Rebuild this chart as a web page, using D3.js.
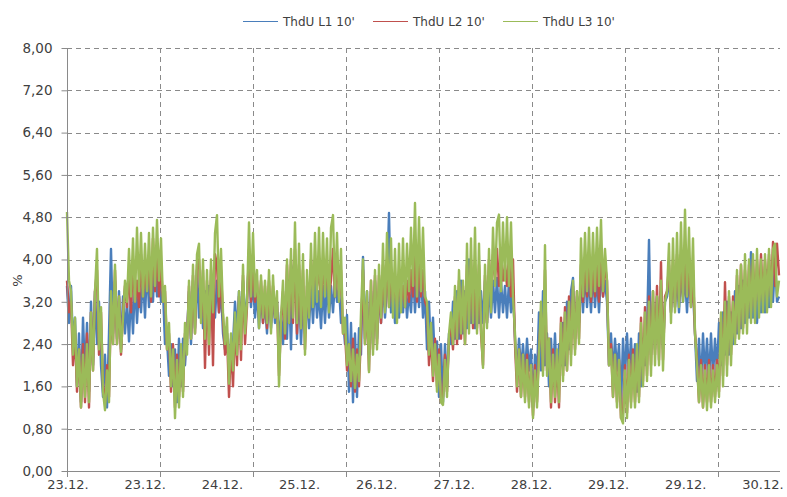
<!DOCTYPE html>
<html><head><meta charset="utf-8">
<script src="https://cdn.jsdelivr.net/npm/d3@7"></script>
<style>body{margin:0;background:#fff}svg{display:block}</style>
</head><body><svg id="c" width="787" height="497"></svg>
<script>
// Series names & colours
const seriesNames = ["ThdU L1 10'", "ThdU L2 10'", "ThdU L3 10'"];
const seriesColors = ["#4A7EBB", "#C0504D", "#9BBB59"];
// Y tick values
const yTicks = [0, 0.8, 1.6, 2.4, 3.2, 4.0, 4.8, 5.6, 6.4, 7.2, 8.0];
// X category labels and the sample index where each appears
const xLabels = ["23.12.", "23.12.", "24.12.", "25.12.", "26.12.", "27.12.", "28.12.", "29.12.", "29.12.", "30.12."];
const xLabelIndex = [0.5, 39.1, 77.7, 116.3, 154.9, 193.6, 232.2, 270.8, 309.4, 348];
const xGridIndex = [0, 46.5, 93, 139.5, 186, 232.5, 279, 325.5];

// L1 (blue)
const L1 = [
3.5,2.8,3.5,2.4,2.9,1.6,2.6,1.3,2.9,1.8,2.8,1.5,3.2,2.0,3.4,2.4,3.2,2.0,1.4,2.2,
1.2,2.6,4.2,2.6,3.6,2.5,3.4,2.3,3.3,2.6,3.2,2.45,3.4,2.6,3.6,2.8,3.5,3.0,3.7,2.9,
3.9,3.1,3.8,3.2,4.2,3.3,3.9,3.2,3.4,2.4,2.5,1.8,2.4,1.6,2.3,1.3,2.5,1.6,2.5,2.0,
2.6,3.4,2.4,3.6,2.7,3.8,2.9,3.5,2.7,3.4,2.8,3.5,3.0,3.6,2.9,3.6,3.0,3.4,2.6,2.3,
2.6,1.9,2.5,2.4,3.2,2.6,3.4,2.7,3.6,2.8,3.3,4.0,3.1,3.6,2.9,3.4,2.7,3.3,2.8,3.2,
2.6,3.4,2.7,3.3,2.8,3.2,2.4,3.0,2.4,3.2,2.5,3.6,2.3,3.8,4.0,2.5,3.5,2.4,3.3,2.6,
3.3,2.7,3.5,2.8,3.6,2.9,3.4,2.7,3.5,2.8,3.6,2.9,3.5,3.0,3.6,3.2,3.5,2.8,2.9,2.4,
2.95,1.5,2.8,1.3,2.6,1.4,2.7,2.2,4.05,2.5,3.4,2.2,3.4,2.4,3.6,2.5,3.4,2.8,3.6,2.9,
3.5,4.88,3.0,3.5,2.8,3.6,2.9,3.5,3.0,3.6,2.9,3.4,3.0,3.8,3.0,3.7,3.1,3.8,2.9,3.4,
2.3,3.2,2.2,2.9,2.0,2.45,1.4,2.4,1.3,2.4,1.6,2.6,2.4,3.2,2.5,3.4,2.5,3.6,2.6,3.4,
2.7,4.0,2.8,3.7,2.7,3.5,2.8,3.4,2.8,3.6,2.8,3.5,2.9,3.6,3.0,3.65,2.9,3.6,3.0,3.5,
2.9,3.6,3.0,3.4,2.5,1.8,2.5,1.9,2.4,1.8,2.5,1.9,2.3,1.2,2.2,1.8,3.0,1.9,3.4,2.0,
2.6,1.6,2.5,1.7,2.6,1.6,2.4,2.0,2.8,2.0,3.2,2.3,3.4,3.65,2.5,3.3,2.8,3.7,3.0,3.8,
3.1,3.7,3.0,3.8,3.1,3.7,3.0,3.8,3.3,3.6,3.2,2.0,2.6,1.8,2.5,1.9,2.4,1.2,2.5,1.8,
2.6,1.8,2.5,1.7,2.4,1.5,2.6,1.6,2.5,2.0,2.6,4.37,2.2,3.2,2.3,3.3,2.4,3.4,2.3,3.2,
3.3,3.7,3.0,3.8,3.1,3.7,3.0,3.8,3.2,3.7,3.0,3.8,3.2,3.4,2.6,1.7,2.5,1.6,2.6,1.8,
2.5,1.7,2.6,1.8,2.5,1.9,2.8,2.0,3.0,2.2,3.2,2.2,3.0,2.4,3.4,2.6,3.5,2.7,3.6,2.8,
3.4,2.9,4.14,2.9,3.4,2.8,3.6,3.0,3.5,3.0,3.8,3.1,3.7,3.2,4.0,3.2,3.3];

// L2 (red)
const L2 = [
3.6,3.0,3.2,2.0,2.6,1.5,2.3,1.2,2.4,1.3,2.6,1.2,3.0,1.9,3.4,3.8,2.2,3.0,1.6,1.3,
2.0,1.4,3.2,2.4,3.8,2.4,3.3,2.2,3.0,3.5,3.1,3.8,3.0,4.0,3.2,3.6,3.1,4.1,3.3,3.8,
3.4,4.0,3.2,4.4,3.4,4.2,3.3,3.9,3.2,3.4,2.3,2.6,1.5,2.4,1.2,2.2,1.4,2.3,1.5,2.6,
2.4,3.5,2.5,3.7,2.6,3.9,4.0,2.9,3.8,1.95,3.6,2.2,3.8,2.0,4.1,3.9,3.0,3.8,2.9,2.2,
2.6,1.4,2.4,1.6,2.8,2.0,3.3,2.1,3.7,2.4,3.1,4.2,3.2,3.9,3.2,3.6,2.9,3.6,2.8,3.5,
2.7,3.6,2.8,3.5,2.9,3.2,1.8,2.8,3.4,2.5,3.9,2.8,4.0,2.8,4.2,2.6,3.9,2.7,3.8,2.3,
3.5,3.0,4.0,3.4,3.9,3.5,3.8,3.2,3.9,3.4,3.8,3.3,3.6,4.2,3.3,4.0,3.3,3.8,2.6,2.6,
1.9,2.4,1.6,2.5,1.5,2.3,1.6,2.6,3.8,2.4,3.2,1.9,3.6,2.3,3.7,2.4,3.7,2.8,3.9,3.1,
4.0,3.1,3.8,3.2,3.6,3.1,3.7,3.2,3.5,3.1,3.6,3.2,3.8,3.3,4.2,3.2,4.0,3.3,3.8,3.2,
3.1,2.0,2.6,1.7,2.5,1.6,2.3,1.3,1.4,2.2,1.5,2.5,2.8,2.3,3.3,2.4,3.6,2.5,3.5,2.4,
3.9,2.8,4.0,2.7,3.8,2.7,3.9,2.6,2.0,3.7,2.8,4.0,3.4,4.1,3.6,4.2,3.5,4.0,3.6,3.9,
3.5,4.1,3.3,4.0,2.4,1.5,2.3,1.4,2.2,1.4,2.2,1.3,2.0,1.05,2.0,1.3,2.3,3.0,1.9,3.8,
1.9,2.5,1.2,2.3,1.3,2.2,1.2,2.9,1.8,3.1,1.9,3.3,2.2,3.5,2.3,3.4,2.5,3.9,3.2,4.0,
3.3,4.1,3.2,3.9,3.3,4.0,3.2,4.2,3.3,3.9,3.6,2.0,2.4,1.4,2.2,1.3,2.1,1.0,1.1,2.0,
1.1,2.2,1.3,2.3,1.3,2.3,1.4,2.9,1.7,3.1,1.8,3.3,2.0,3.4,2.2,3.5,2.1,3.95,2.1,3.3,
3.4,3.9,3.0,4.0,3.1,4.1,3.2,4.0,3.3,4.2,3.3,3.9,3.1,3.8,2.6,2.1,1.3,2.1,1.2,2.0,
1.3,2.1,1.3,2.0,1.4,2.1,1.5,2.9,1.8,3.57,2.0,3.3,2.2,3.3,2.5,3.7,2.6,3.9,2.7,3.8,
2.9,3.9,3.0,4.0,3.1,4.0,3.2,4.1,3.2,4.0,3.3,4.1,3.3,4.33,3.5,4.3,3.7];

// L3 (green)
const L3 = [
4.9,3.6,3.4,2.2,2.9,1.6,2.3,1.2,2.2,1.4,2.4,1.3,3.0,1.9,3.4,4.2,2.3,3.1,1.5,1.15,
1.9,1.3,3.4,2.4,3.9,2.4,3.3,2.25,2.9,3.6,3.2,4.2,3.3,4.4,3.2,4.6,3.4,4.5,3.3,4.3,
3.4,4.5,3.3,4.6,3.5,4.75,3.6,4.4,3.2,3.5,2.3,2.8,1.6,2.3,1.0,2.1,1.2,2.4,1.4,2.8,
2.2,3.6,2.5,3.9,2.6,4.1,4.3,2.8,4.0,2.5,3.8,2.4,4.0,3.0,4.5,4.84,3.3,4.2,3.0,2.4,
2.9,1.65,2.6,1.9,3.0,2.2,3.4,2.3,3.9,2.6,3.2,4.7,3.3,4.5,3.3,3.8,2.7,3.7,2.9,3.6,
2.8,3.8,2.6,3.7,2.9,3.4,1.6,2.9,3.6,2.6,4.0,2.8,4.2,2.9,4.7,2.8,4.3,2.7,4.1,2.2,
3.8,2.9,4.3,3.1,4.5,3.2,4.6,3.1,4.5,3.3,4.4,3.0,4.6,4.84,3.3,4.5,3.2,4.2,2.6,2.9,
2.0,2.4,1.7,2.3,1.57,2.2,1.7,3.0,4.0,2.4,3.4,1.87,3.6,2.2,3.8,2.3,3.9,2.9,4.3,3.0,
4.5,3.1,4.4,2.9,4.2,2.8,4.3,3.0,4.4,3.1,4.3,3.4,4.6,3.5,5.07,3.3,4.8,3.4,4.6,3.3,
3.2,2.2,2.8,1.8,2.4,1.5,2.2,1.3,1.25,2.1,1.4,2.6,3.0,2.4,3.5,2.5,3.8,2.6,3.6,2.4,
4.3,2.6,4.4,2.8,4.6,2.6,4.3,2.7,1.95,3.9,2.7,4.2,3.0,4.6,3.5,4.7,4.85,3.4,4.7,3.6,
4.8,3.5,4.7,3.3,2.6,1.6,2.3,1.4,2.2,1.3,2.1,1.2,2.0,1.0,1.9,1.2,2.2,3.2,1.8,4.27,
1.8,2.5,1.3,2.2,1.4,2.3,1.3,2.8,1.7,3.0,1.9,3.2,2.0,3.6,2.2,3.4,2.4,4.4,3.3,4.5,
3.4,4.6,3.3,4.5,3.4,4.6,3.5,4.75,3.4,4.2,3.6,2.0,2.3,1.4,2.2,1.2,2.1,1.0,0.9,1.9,
1.0,2.1,1.2,2.2,1.2,2.4,1.3,2.8,1.6,3.0,1.7,3.2,1.8,3.4,2.0,3.3,2.0,3.6,1.9,3.2,
3.4,4.3,2.8,4.4,3.0,4.5,3.1,4.7,3.2,4.94,3.3,4.6,3.1,4.4,2.6,2.0,1.3,2.0,1.2,1.9,
1.15,2.0,1.2,1.9,1.3,2.0,1.4,3.0,1.6,3.2,1.8,3.4,2.0,3.2,2.4,3.8,2.5,3.9,2.6,4.1,
2.6,4.0,2.8,4.1,2.8,4.2,2.9,4.0,3.0,4.1,3.0,4.2,3.1,4.2,4.3,3.3,3.6];

const series = [L1, L2, L3];

const svg = d3.select("#c");
const W = 787, H = 497;
const m = {left: 67, right: 8, top: 48, bottom: 26};
const n = L3.length;
const x = d3.scaleLinear().domain([0, n - 1]).range([m.left, W - m.right]);
const y = d3.scaleLinear().domain([0, 8]).range([H - m.bottom, m.top]);
const font = "DejaVu Sans, Verdana, sans-serif";

// horizontal gridlines
svg.append("g").selectAll("line").data(yTicks.filter(d => d > 0)).join("line")
  .attr("x1", m.left).attr("x2", W - m.right + 1)
  .attr("y1", d => Math.round(y(d)) + 0.5).attr("y2", d => Math.round(y(d)) + 0.5)
  .attr("stroke", "#8a8a8a").attr("stroke-width", 1).attr("stroke-dasharray", "5,4");
// vertical gridlines
svg.append("g").selectAll("line").data(xGridIndex.filter(d => d > 0)).join("line")
  .attr("x1", d => Math.round(x(d)) + 0.5).attr("x2", d => Math.round(x(d)) + 0.5)
  .attr("y1", m.top).attr("y2", H - m.bottom)
  .attr("stroke", "#8a8a8a").attr("stroke-width", 1).attr("stroke-dasharray", "5,4");

// series lines
const line = d3.line().x((d, i) => x(i)).y(d => y(d));
series.forEach((s, k) => {
  svg.append("path").datum(s).attr("d", line)
    .attr("fill", "none").attr("stroke", seriesColors[k])
    .attr("stroke-width", 2.4).attr("stroke-linejoin", "round");
});

// y axis
const yAxis = d3.axisLeft(y).tickValues(yTicks).tickSize(6).tickPadding(9)
  .tickFormat(d => d3.format(".2f")(d).replace(".", ","));
const gy = svg.append("g").attr("transform", `translate(${m.left + 0.5},0)`).call(yAxis);
gy.select(".domain").attr("stroke", "#8a8a8a").attr("d", `M0,${m.top}V${H - m.bottom}`);
gy.selectAll(".tick line").attr("stroke", "#8a8a8a");
gy.selectAll(".tick text").attr("font-family", font).attr("font-size", 13.5).attr("fill", "#404040");

// x axis line and ticks
svg.append("line").attr("x1", m.left).attr("x2", W - m.right + 1)
  .attr("y1", H - m.bottom + 0.5).attr("y2", H - m.bottom + 0.5).attr("stroke", "#8a8a8a");
svg.append("g").selectAll("line").data(xGridIndex).join("line")
  .attr("x1", d => Math.round(x(d)) + 0.5).attr("x2", d => Math.round(x(d)) + 0.5)
  .attr("y1", H - m.bottom).attr("y2", H - m.bottom + 6).attr("stroke", "#8a8a8a");
svg.append("g").selectAll("text").data(xLabels).join("text")
  .attr("x", (d, i) => x(xLabelIndex[i])).attr("y", H - m.bottom + 18)
  .attr("text-anchor", "middle").attr("font-family", font).attr("font-size", 13)
  .attr("fill", "#404040").text(d => d);

// y title
svg.append("text").attr("transform", `translate(22,${y(3.6)}) rotate(-90)`)
  .attr("text-anchor", "middle").attr("font-family", font).attr("font-size", 13)
  .attr("fill", "#404040").text("%");

// legend
const legX = [243, 373, 503];
const lg = svg.append("g");
seriesNames.forEach((name, k) => {
  lg.append("line").attr("x1", legX[k]).attr("x2", legX[k] + 35)
    .attr("y1", 21.5).attr("y2", 21.5).attr("stroke", seriesColors[k]).attr("stroke-width", 1.2);
  lg.append("text").attr("x", legX[k] + 40).attr("y", 26)
    .attr("font-family", font).attr("font-size", 12).attr("fill", "#404040").text(name);
});
</script></body></html>
